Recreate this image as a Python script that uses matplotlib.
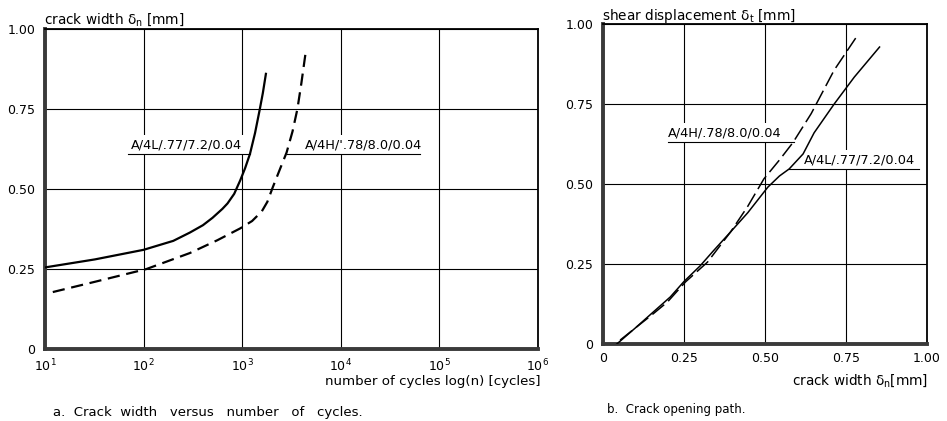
import math
import matplotlib.pyplot as plt
from matplotlib.ticker import FixedLocator, FuncFormatter

plt.rcParams['font.family'] = ['DejaVu Sans']
plt.rcParams['mathtext.default'] = 'regular'
plt.rcParams['font.size'] = 9

# a. crack width vs number of cycles
n_4l = [10, 32, 100, 200, 295, 400, 500, 630, 710, 830, 955, 1070, 1200, 1350, 1510, 1620, 1740]
dn_4l = [0.255, 0.28, 0.31, 0.338, 0.364, 0.387, 0.41, 0.438, 0.455, 0.485, 0.527, 0.565,
         0.61, 0.675, 0.75, 0.80, 0.86]
n_4h = [12, 32, 107, 295, 560, 955, 1260, 1580, 1800, 2040, 2400, 2820, 3240, 3630, 3980, 4370]
dn_4h = [0.178, 0.21, 0.25, 0.30, 0.34, 0.377, 0.40, 0.43, 0.46, 0.505, 0.56, 0.614, 0.68,
         0.75, 0.83, 0.92]

# b. crack opening path (shear displacement vs crack width)
w_4l = [0.043, 0.10, 0.15, 0.208, 0.25, 0.30, 0.34, 0.385, 0.447, 0.509, 0.545, 0.575,
        0.618, 0.652, 0.714, 0.776, 0.854]
dt_4l = [0.0, 0.05, 0.095, 0.147, 0.195, 0.244, 0.29, 0.34, 0.41, 0.49, 0.525, 0.547,
         0.594, 0.66, 0.75, 0.834, 0.928]
w_4h = [0.053, 0.10, 0.15, 0.199, 0.255, 0.323, 0.394, 0.447, 0.497, 0.545, 0.587,
        0.643, 0.714, 0.789]
dt_4h = [0.012, 0.05, 0.09, 0.131, 0.194, 0.256, 0.35, 0.43, 0.516, 0.575, 0.63,
         0.72, 0.856, 0.969]

label_4l = 'A/4L/.77/7.2/0.04'
label_4h = "A/4H/'.78/8.0/0.04"
label_4h_b = 'A/4H/.78/8.0/0.04'

y_ticks = [0, 0.25, 0.50, 0.75, 1.00]
y_ticklabels = ['0', '0.25', '0.50', '0.75', '1.00']
x_ticks_b = [0, 0.25, 0.50, 0.75, 1.00]
x_ticklabels_b = ['0', '0.25', '0.50', '0.75', '1.00']
decades = [1e1, 1e2, 1e3, 1e4, 1e5, 1e6]

fig = plt.figure(figsize=(9.47, 4.21), dpi=100)
ax1 = fig.add_axes([0.0475, 0.171, 0.5206, 0.760])
ax2 = fig.add_axes([0.6367, 0.183, 0.342, 0.760])


def style_axes(ax):
    ax.grid(True, color='black', linewidth=0.8)
    ax.set_axisbelow(True)
    for side in ['left', 'bottom']:
        ax.spines[side].set_linewidth(2.8)
        ax.spines[side].set_color('#3a3a3a')
    for side in ['top', 'right']:
        ax.spines[side].set_linewidth(1.3)
    ax.tick_params(length=0, labelsize=9)
    ax.tick_params(axis='y', pad=7)
    ax.tick_params(axis='x', pad=6)
    ax.set_yticks(y_ticks)
    ax.set_yticklabels(y_ticklabels)
    ax.set_ylim(0, 1)


def label_line(ax, text, x0, x1, y, tx):
    # underlined curve label; white box cuts the grid behind the text
    ax.plot([x0, x1], [y, y], color='black', linewidth=0.8, zorder=4)
    ax.text(tx, y + 0.008, text, fontsize=9.3, va='bottom', ha='left', zorder=3,
            bbox=dict(facecolor='white', edgecolor='none', pad=2.5))


# left panel
ax1.set_xscale('log')
ax1.set_xlim(10, 1e6)
ax1.xaxis.set_major_locator(FixedLocator(decades))
ax1.xaxis.set_minor_locator(FixedLocator([]))
ax1.xaxis.set_major_formatter(FuncFormatter(lambda v, p: '$10^{%d}$' % round(math.log10(v))))
style_axes(ax1)
ax1.plot(n_4l, dn_4l, color='black', linewidth=1.6, zorder=5)
ax1.plot(n_4h, dn_4h, color='black', linewidth=1.6, linestyle=(0, (5.5, 3)), zorder=5)
label_line(ax1, label_4l, 69, 1200, 0.61, 75)
label_line(ax1, label_4h, 2880, 63000, 0.61, 4300)

# right panel
ax2.set_xlim(0, 1)
ax2.set_xticks(x_ticks_b)
ax2.set_xticklabels(x_ticklabels_b)
style_axes(ax2)
ax2.plot(w_4l, dt_4l, color='black', linewidth=1.1, zorder=5)
ax2.plot(w_4h, dt_4h, color='black', linewidth=1.1, linestyle=(0, (10, 3.5)), zorder=5)
label_line(ax2, label_4h_b, 0.2, 0.59, 0.63, 0.2)
label_line(ax2, label_4l, 0.575, 0.975, 0.547, 0.62)

# axis titles and captions
fig.text(44 / 947, 1 - 24 / 421, 'crack width δ$_n$ [mm]', fontsize=9.8, va='baseline')
fig.text(602 / 947, 1 - 20 / 421, 'shear displacement δ$_t$ [mm]', fontsize=9.8, va='baseline')
fig.text(540 / 947, 1 - 385 / 421, 'number of cycles log(n) [cycles]', fontsize=9.6,
         ha='right', va='baseline')
fig.text(928 / 947, 1 - 385 / 421, 'crack width δ$_n$[mm]', fontsize=9.8,
         ha='right', va='baseline')
fig.text(53 / 947, 1 - 416 / 421, 'a.  Crack  width   versus   number   of   cycles.',
         fontsize=9.5, va='baseline')
fig.text(607 / 947, 1 - 413 / 421, 'b.  Crack opening path.', fontsize=8.5, va='baseline')

fig.savefig('out.png', dpi=100)
